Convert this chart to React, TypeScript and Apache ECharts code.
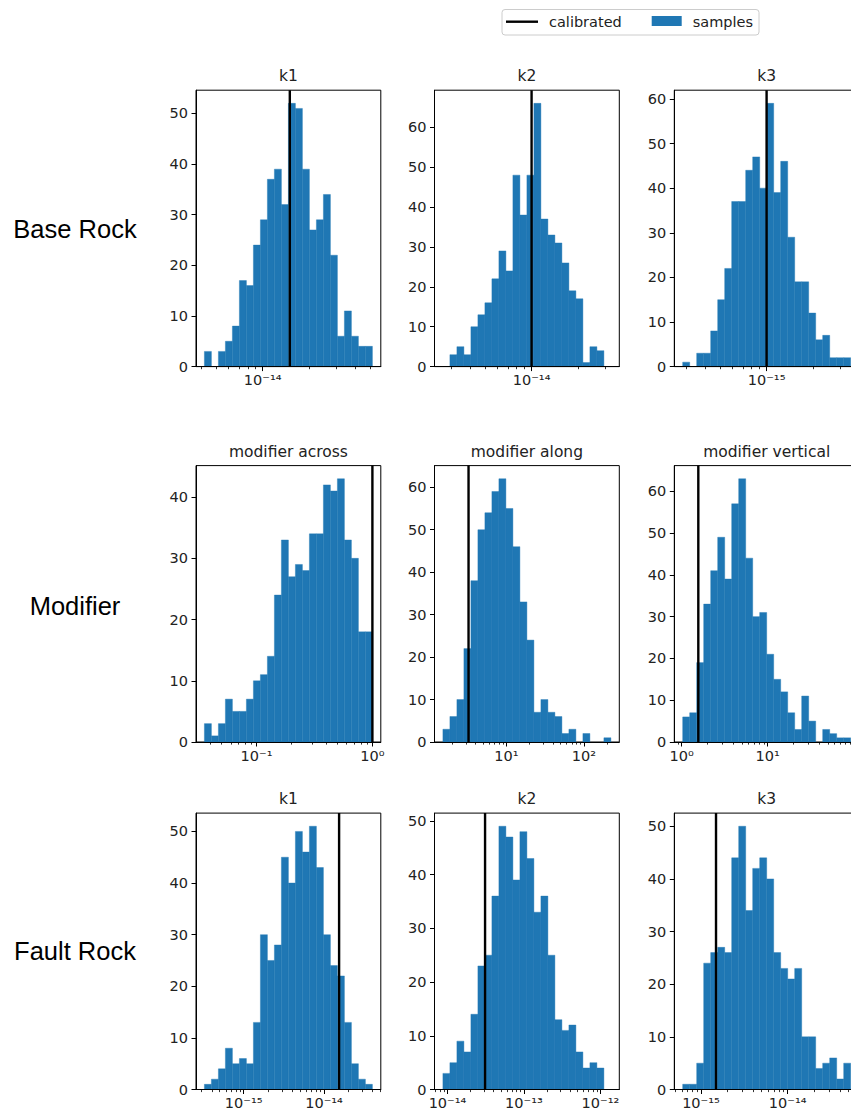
import React, { useEffect, useRef } from 'react';
import * as echarts from 'echarts';

const ROW_LABELS = ['Base Rock', 'Modifier', 'Fault Rock'];
const PANEL_TITLES = ['k1', 'k2', 'k3', 'modifier across', 'modifier along', 'modifier vertical', 'k1', 'k2', 'k3'];
const LEGEND_LABELS = ['calibrated', 'samples'];

// histogram counts, 24 log-spaced bins per panel
const countsBaseK1 = [3, 0, 3, 5, 8, 17, 16, 24, 29, 37, 39, 32, 52, 51, 39, 27, 29, 34, 22, 6, 11, 6, 4, 4];
const countsBaseK2 = [0, 3, 5, 3, 10, 13, 16, 22, 29, 24, 48, 38, 48, 66, 37, 33, 31, 26, 19, 17, 1, 5, 4, 0];
const countsBaseK3 = [1, 0, 3, 3, 8, 15, 22, 37, 37, 44, 47, 40, 59, 39, 46, 29, 19, 19, 12, 6, 7, 2, 2, 2];
const countsModAcross = [3, 1, 3, 7, 5, 5, 7, 10, 11, 14, 24, 33, 27, 29, 28, 34, 34, 42, 41, 43, 33, 30, 18, 18];
const countsModAlong = [3, 6, 10, 22, 38, 50, 54, 59, 62, 55, 46, 33, 24, 7, 10, 7, 6, 2, 3, 0, 2, 0, 0, 1];
const countsModVertical = [6, 7, 19, 33, 41, 49, 39, 57, 63, 44, 30, 31, 21, 15, 12, 7, 3, 11, 5, 0, 3, 2, 1, 1];
const countsFaultK1 = [1, 2, 4, 8, 5, 6, 5, 13, 30, 25, 28, 45, 40, 50, 46, 51, 43, 30, 24, 22, 13, 5, 2, 1];
const countsFaultK2 = [3, 5, 9, 7, 14, 23, 25, 36, 49, 47, 39, 48, 43, 33, 36, 25, 13, 11, 12, 7, 4, 5, 4, 0];
const countsFaultK3 = [1, 1, 5, 24, 26, 27, 26, 44, 50, 34, 42, 44, 40, 26, 23, 21, 23, 10, 10, 4, 5, 6, 2, 5];

// first and last bin edge of each histogram
const binRangeBaseK1 = [4.18e-15, 5.16e-14];
const binRangeBaseK2 = [2.65e-15, 3.28e-14];
const binRangeBaseK3 = [2.85e-16, 3.52e-15];
const binRangeModAcross = [0.0355, 1.0];
const binRangeModAlong = [1.517, 223.4];
const binRangeModVertical = [1.027, 92.3];
const binRangeFaultK1 = [3.24e-16, 4.0e-14];
const binRangeFaultK2 = [8.71e-15, 1.371e-12];
const binRangeFaultK3 = [6.15e-16, 5.33e-14];

// calibrated value of each parameter
const calibratedValues = [1.5e-14, 1.0e-14, 1.0e-15, 1.0, 3.25, 1.56, 1.54e-14, 3.1e-14, 1.49e-15];

const allCounts = [countsBaseK1, countsBaseK2, countsBaseK3, countsModAcross, countsModAlong, countsModVertical, countsFaultK1, countsFaultK2, countsFaultK3];
const allRanges = [binRangeBaseK1, binRangeBaseK2, binRangeBaseK3, binRangeModAcross, binRangeModAlong, binRangeModVertical, binRangeFaultK1, binRangeFaultK2, binRangeFaultK3];

// layout
const PAGE_W = 851;
const COL_LEFT = [196, 434.5, 674.3];
const COL_WIDTH = 184.8;
const ROW_TOP = [90.2, 465.6, 813.1];
const ROW_HEIGHT = 276.4;
const ROW_LABEL_Y = [229, 606, 951];
const BLUE = '#1f77b4';
const TXT = '#222';
const FONT = '"DejaVu Sans", sans-serif';

const SUP: Record<string, string> = { '-': '⁻', '0': '⁰', '1': '¹', '2': '²', '3': '³', '4': '⁴', '5': '⁵', '6': '⁶', '7': '⁷', '8': '⁸', '9': '⁹' };
const toSup = (n: number) => String(Math.round(n)).split('').map((c) => SUP[c] || c).join('');

function buildOption() {
  const grids: any[] = [];
  const xAxes: any[] = [];
  const xMinorAxes: any[] = [];
  const yAxes: any[] = [];
  const series: any[] = [];
  const graphics: any[] = [];

  allCounts.forEach((counts, i) => {
    const row = Math.floor(i / 3);
    const col = i % 3;
    const lo = Math.log10(allRanges[i][0]);
    const hi = Math.log10(allRanges[i][1]);
    const n = counts.length;
    const w = (hi - lo) / n;
    const span = hi - lo;
    const xmin = lo - 0.05 * span;
    const xmax = hi + 0.05 * span;
    const left = COL_LEFT[col];
    const top = ROW_TOP[row];
    const toPx = (v: number) => left + ((v - xmin) / (xmax - xmin)) * COL_WIDTH;

    const majors: number[] = [];
    for (let e = Math.ceil(xmin); e <= Math.floor(xmax); e++) majors.push(e);
    // labels whose centre falls past the page's right edge are not visible
    const majorLabels = majors.filter((e) => toPx(e) < PAGE_W - 6);
    const minors: number[] = [];
    for (let e = Math.floor(xmin) - 1; e <= Math.ceil(xmax); e++) {
      for (let k = 2; k <= 9; k++) {
        const v = e + Math.log10(k);
        if (v > xmin && v < xmax) minors.push(v);
      }
    }
    const cmax = Math.max(...counts);
    const ymax = cmax * 1.05;
    const yticks: number[] = [];
    for (let t = 0; t <= ymax; t += 10) yticks.push(t);

    grids.push({
      left, top, width: COL_WIDTH, height: ROW_HEIGHT,
      show: true, borderColor: '#000', borderWidth: 1, backgroundColor: 'transparent',
      containLabel: false, outerBoundsMode: 'none',
    });
    xAxes.push({
      type: 'value', gridIndex: i, min: xmin, max: xmax, position: 'bottom', z: 5,
      axisLine: { show: true, onZero: false, lineStyle: { color: '#000', width: 1 } },
      splitLine: { show: false },
      axisTick: { show: true, customValues: majors, length: 4.5, lineStyle: { color: '#000', width: 1 } },
      axisLabel: {
        show: true, customValues: majorLabels, margin: 6, color: TXT, fontSize: 14.5, fontFamily: FONT,
        hideOverlap: false,
        formatter: (v: number) => '10' + toSup(v),
      },
    });
    xMinorAxes.push({
      type: 'value', gridIndex: i, min: xmin, max: xmax, position: 'bottom', offset: 0,
      axisLine: { show: false, onZero: false },
      splitLine: { show: false },
      axisTick: { show: true, customValues: minors, length: 2.6, lineStyle: { color: '#000', width: 0.8 } },
      axisLabel: { show: false },
    });
    yAxes.push({
      type: 'value', gridIndex: i, min: 0, max: ymax, z: 5,
      axisLine: { show: true, onZero: false, lineStyle: { color: '#000', width: 1 } },
      splitLine: { show: false },
      axisTick: { show: true, customValues: yticks, length: 4.5, lineStyle: { color: '#000', width: 1 } },
      axisLabel: { show: true, customValues: yticks, margin: 8, color: TXT, fontSize: 14.5, fontFamily: FONT },
    });
    series.push({
      type: 'custom', name: LEGEND_LABELS[1], xAxisIndex: i, yAxisIndex: i, clip: true, z: 2, silent: true,
      data: counts.map((c, j) => [lo + j * w, lo + (j + 1) * w, c]),
      encode: { x: [0, 1], y: 2 },
      renderItem: (_p: any, api: any) => {
        const c = api.value(2);
        if (!c) return null;
        const p0 = api.coord([api.value(0), 0]);
        const p1 = api.coord([api.value(1), c]);
        return {
          type: 'rect',
          shape: { x: p0[0], y: p1[1], width: p1[0] - p0[0], height: p0[1] - p1[1] },
          style: { fill: BLUE, stroke: BLUE, lineWidth: 0.4 },
        };
      },
    });
    const cx = Math.log10(calibratedValues[i]);
    series.push({
      type: 'line', name: LEGEND_LABELS[0], xAxisIndex: i, yAxisIndex: i, z: 3, silent: true,
      symbol: 'none', lineStyle: { color: '#000', width: 2.4 },
      data: [[cx, 0], [cx, ymax]],
    });
    graphics.push({
      type: 'text', x: left + COL_WIDTH / 2, y: top - 14,
      style: { text: PANEL_TITLES[i], fill: TXT, fontSize: 15.5, fontFamily: FONT, align: 'center', verticalAlign: 'middle' },
    });
  });

  ROW_LABELS.forEach((t, r) => {
    graphics.push({
      type: 'text', x: 75, y: ROW_LABEL_Y[r],
      style: { text: t, fill: '#000', fontSize: 25.5, fontFamily: '"Liberation Sans", Arial, sans-serif', align: 'center', verticalAlign: 'middle' },
    });
  });

  // legend
  graphics.push(
    { type: 'rect', shape: { x: 502, y: 9.5, width: 257, height: 25.5, r: 3 }, style: { fill: '#fff', stroke: '#cccccc', lineWidth: 1 }, z: 10 },
    { type: 'line', shape: { x1: 506, y1: 21.7, x2: 538, y2: 21.7 }, style: { stroke: '#000', lineWidth: 2.4 }, z: 11 },
    { type: 'text', x: 549, y: 22, style: { text: LEGEND_LABELS[0], fill: TXT, fontSize: 14.5, fontFamily: FONT, align: 'left', verticalAlign: 'middle' }, z: 11 },
    { type: 'rect', shape: { x: 651.7, y: 16, width: 30, height: 10 }, style: { fill: BLUE }, z: 11 },
    { type: 'text', x: 692.7, y: 22, style: { text: LEGEND_LABELS[1], fill: TXT, fontSize: 14.5, fontFamily: FONT, align: 'left', verticalAlign: 'middle' }, z: 11 },
  );

  return {
    animation: false,
    backgroundColor: '#fff',
    grid: grids,
    xAxis: [...xAxes, ...xMinorAxes],
    yAxis: yAxes,
    series,
    graphic: graphics,
  };
}

export default function App() {
  const ref = useRef<HTMLDivElement>(null);
  useEffect(() => {
    if (!ref.current) return;
    const chart = echarts.init(ref.current, undefined, { renderer: 'svg' });
    chart.setOption(buildOption() as any);
    return () => chart.dispose();
  }, []);
  return <div ref={ref} style={{ position: 'absolute', left: 0, top: 0, width: 851, height: 1117 }} />;
}
